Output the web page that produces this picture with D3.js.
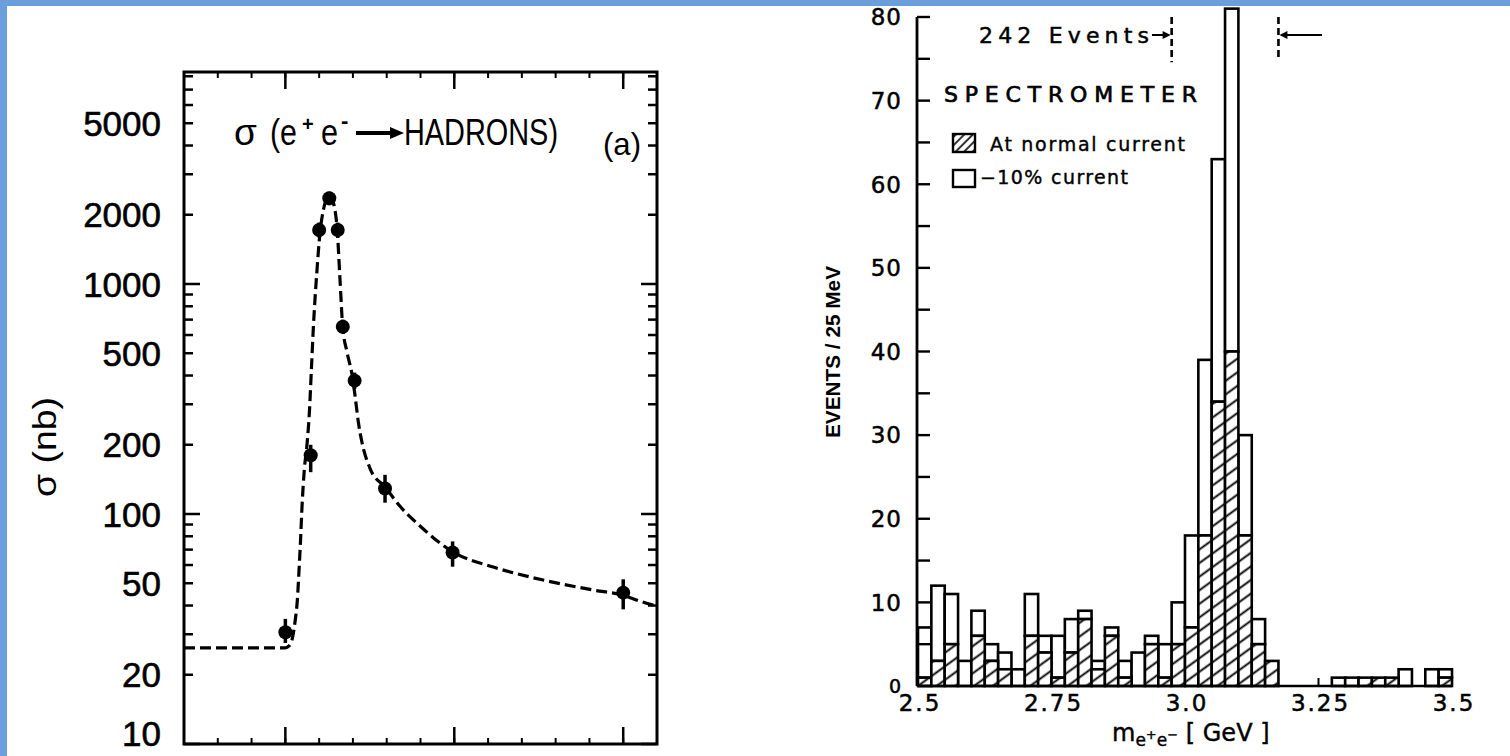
<!DOCTYPE html>
<html><head><meta charset="utf-8">
<script src="https://cdn.jsdelivr.net/npm/d3@7"></script>
<style>body{margin:0;background:#fff;}svg{display:block;}</style>
</head><body>
<svg id="c" width="1510" height="756"></svg>
<script>
// ===== Left panel: sigma(e+e- -> hadrons) =====
const leftEnergy  = [3.1000, 3.1015, 3.1020, 3.1026, 3.1031, 3.1034, 3.1041, 3.1059, 3.1099, 3.1200];
const leftSigma   = [30.6, 180, 1717, 2358, 1717, 652, 380, 129, 68, 45.5];
const leftSigmaLo = [27.5, 152, 1590, 2200, 1590, 610, 350, 112, 59, 38.5];
const leftSigmaHi = [35, 200, 1850, 2520, 1850, 700, 412, 148, 76, 52];
const fitEnergy = [3.0940,3.1000,3.10022,3.10039,3.10057,3.10071,3.10081,3.10090,3.10099,3.10112,
                   3.10128,3.10142,3.10154,3.10165,3.10186,3.10205,3.10225,3.10241,3.10258,3.10276,
                   3.10294,3.10307,3.10323,3.10339,3.10365,3.10395,3.10412,3.10432,3.10454,3.10501,
                   3.10594,3.10679,3.10797,3.10991,3.11231,3.11527,3.11823,3.11997,3.12099,3.12200];
const fitSigma  = [26.2,26.2,26.7,28.3,33.9,42.3,57.1,77.1,109,155,
                   200,275,423,631,1116,1666,2098,2319,2414,2319,
                   2098,1717,1062,657,506,402,329,251,204,158,
                   130,108,88.7,68.4,58.8,51.6,46.7,44.4,41.8,39.8];
const leftYTickLabels = [10, 20, 50, 100, 200, 500, 1000, 2000, 5000];
const leftXMajorTicks = [3.10, 3.11, 3.12];

// ===== Right panel: spectrometer histogram =====
const binStart = 2.5, binWidth = 0.025;
const totalCounts  = [7,12,11,3,9,5,4,2,11,6, 6,8,9,3,7,3,4,6,5,10, 18,39,63,81,30,8,3,0,0,0, 0,1,1,1,1,1,2,0,2,2];
const normalCounts = [1,3,5,0,6,3,2,0,6,4, 1,4,8,2,6,1,0,5,1,5, 7,18,34,40,18,5,3,0,0,0, 0,0,0,1,1,1,0,0,0,1];
const rightYTicks = [0,10,20,30,40,50,60,70,80];
const rightXTicks = [2.5, 2.75, 3.0, 3.25, 3.5];
const rightXTickLabels = ["2.5","2.75","3.0","3.25","3.5"];
const eventWindow = [2.975, 3.175];

const svg = d3.select("#c");
svg.append("rect").attr("width",1510).attr("height",756).attr("fill","#fff");

// ---------- LEFT ----------
const LF = "'Liberation Sans', Arial, sans-serif";
const xL = d3.scaleLinear().domain([3.094, 3.122]).range([184, 657]);
const yL = d3.scaleLog().domain([10, 8350]).range([744, 72]);
const gL = svg.append("g");
const [fx0, fx1] = xL.range(), [fy0, fy1] = yL.range();

const logTicks = yL.ticks();
gL.selectAll("line.ly").data(logTicks).join("line")
  .attr("x1", fx0).attr("x2", d => fx0 + (Math.log10(d) % 1 === 0 ? 16 : 9))
  .attr("y1", d => yL(d)).attr("y2", d => yL(d))
  .attr("stroke","#000").attr("stroke-width",2.5);
gL.selectAll("line.ry").data(logTicks).join("line")
  .attr("x1", fx1).attr("x2", d => fx1 - (Math.log10(d) % 1 === 0 ? 16 : 9))
  .attr("y1", d => yL(d)).attr("y2", d => yL(d))
  .attr("stroke","#000").attr("stroke-width",2.5);
const minorX = d3.range(3.096, 3.1215, 0.002);
[[fy0,-1],[fy1,1]].forEach(([yy,dir]) => {
  gL.append("g").selectAll("line").data(minorX).join("line")
    .attr("x1", d => xL(d)).attr("x2", d => xL(d))
    .attr("y1", yy).attr("y2", yy + dir*6).attr("stroke","#000").attr("stroke-width",2);
  gL.append("g").selectAll("line").data(leftXMajorTicks).join("line")
    .attr("x1", d => xL(d)).attr("x2", d => xL(d))
    .attr("y1", yy).attr("y2", yy + dir*17).attr("stroke","#000").attr("stroke-width",2.5);
});
gL.append("rect").attr("x",fx0).attr("y",fy1).attr("width",fx1-fx0).attr("height",fy0-fy1)
  .attr("fill","none").attr("stroke","#000").attr("stroke-width",3);

gL.selectAll("text.yl").data(leftYTickLabels).join("text")
  .attr("x",161).attr("y", d => Math.min(yL(d), 733)).attr("dy","0.36em")
  .attr("text-anchor","end").attr("font-family",LF).attr("font-size",35)
  .attr("stroke","#000").attr("stroke-width",0.6)
  .text(d => d);

const fit = fitEnergy.map((e,i) => ({e, s: fitSigma[i]}));
gL.append("path").datum(fit)
  .attr("d", d3.line().x(d => xL(d.e)).y(d => yL(d.s)).curve(d3.curveMonotoneX))
  .attr("fill","none").attr("stroke","#000").attr("stroke-width",3.2)
  .attr("stroke-dasharray","11,5");

const pts = leftEnergy.map((e,i) => ({e, s: leftSigma[i], lo: leftSigmaLo[i], hi: leftSigmaHi[i]}));
gL.selectAll("line.err").data(pts).join("line")
  .attr("x1", d => xL(d.e)).attr("x2", d => xL(d.e))
  .attr("y1", d => yL(d.lo)).attr("y2", d => yL(d.hi))
  .attr("stroke","#000").attr("stroke-width",3.5);
gL.selectAll("circle").data(pts).join("circle")
  .attr("cx", d => xL(d.e)).attr("cy", d => yL(d.s)).attr("r", 7).attr("fill","#000");

// title
gL.append("text").attr("x",234).attr("y",145).attr("font-family",LF).attr("font-size",37).text("σ");
gL.append("text").attr("x",270).attr("y",145).attr("font-family",LF).attr("font-size",37)
  .attr("textLength",27).attr("lengthAdjust","spacingAndGlyphs").text("(e");
gL.append("text").attr("x",302).attr("y",131).attr("font-family",LF).attr("font-size",20).attr("font-weight","bold").text("+");
gL.append("text").attr("x",321).attr("y",145).attr("font-family",LF).attr("font-size",37)
  .attr("textLength",17).attr("lengthAdjust","spacingAndGlyphs").text("e");
gL.append("text").attr("x",341).attr("y",128).attr("font-family",LF).attr("font-size",22).attr("font-weight","bold").text("-");
gL.append("line").attr("x1",356).attr("x2",392).attr("y1",133).attr("y2",133).attr("stroke","#000").attr("stroke-width",4);
gL.append("path").attr("d","M390,127 L404,133 L390,139 Z").attr("fill","#000");
gL.append("text").attr("x",404).attr("y",145).attr("font-family",LF).attr("font-size",37)
  .attr("textLength",154).attr("lengthAdjust","spacingAndGlyphs").text("HADRONS)");
gL.append("text").attr("x",603).attr("y",155).attr("font-family",LF).attr("font-size",32)
  .attr("textLength",38).attr("lengthAdjust","spacingAndGlyphs").text("(a)");
gL.append("text").attr("transform","translate(56,447) rotate(-90)")
  .attr("text-anchor","middle").attr("font-family",LF).attr("font-size",33)
  .attr("textLength",100).attr("lengthAdjust","spacingAndGlyphs").text("σ (nb)");

// ---------- RIGHT ----------
const RF = "'DejaVu Sans', sans-serif";
const xR = d3.scaleLinear().domain([2.5, 3.5]).range([918, 1452]);
const yR = d3.scaleLinear().domain([0, 80]).range([686, 17]);
const gR = svg.append("g");

const defs = svg.append("defs");
const pat = defs.append("pattern").attr("id","hatch").attr("patternUnits","userSpaceOnUse")
  .attr("width",10).attr("height",11).attr("patternTransform","rotate(-36)");
pat.append("rect").attr("width",10).attr("height",11).attr("fill","#fff");
pat.append("line").attr("x1",0).attr("x2",10).attr("y1",5.5).attr("y2",5.5)
  .attr("stroke","#000").attr("stroke-width",1.9);
const pat2 = defs.append("pattern").attr("id","hatch2").attr("patternUnits","userSpaceOnUse")
  .attr("width",6).attr("height",6).attr("patternTransform","rotate(-45)");
pat2.append("rect").attr("width",6).attr("height",6).attr("fill","#fff");
pat2.append("line").attr("x1",0).attr("x2",6).attr("y1",3).attr("y2",3)
  .attr("stroke","#000").attr("stroke-width",1.6);

gR.selectAll("line.xt").data(rightXTicks).join("line")
  .attr("x1", d => xR(d)).attr("x2", d => xR(d)).attr("y1", yR(0)).attr("y2", yR(0) - 8)
  .attr("stroke","#000").attr("stroke-width",2);

const bins = totalCounts.map((t,i) => ({lo: binStart + i*binWidth, total: t, normal: normalCounts[i]}));
gR.selectAll("rect.open").data(bins.filter(d => d.total > d.normal)).join("rect")
  .attr("x", d => xR(d.lo)).attr("width", d => xR(d.lo + binWidth) - xR(d.lo))
  .attr("y", d => yR(d.total)).attr("height", d => yR(d.normal) - yR(d.total))
  .attr("fill","#fff").attr("stroke","#000").attr("stroke-width",2.6);
gR.selectAll("rect.hat").data(bins.filter(d => d.normal > 0)).join("rect")
  .attr("x", d => xR(d.lo)).attr("width", d => xR(d.lo + binWidth) - xR(d.lo))
  .attr("y", d => yR(d.normal)).attr("height", d => yR(0) - yR(d.normal))
  .attr("fill","url(#hatch)").attr("stroke","#000").attr("stroke-width",2.6);

gR.append("line").attr("x1", xR(2.5)).attr("x2", xR(3.5)).attr("y1", yR(0)).attr("y2", yR(0))
  .attr("stroke","#000").attr("stroke-width",2.6);
gR.append("line").attr("x1", xR(2.5)-1).attr("x2", xR(2.5)-1).attr("y1", yR(0)).attr("y2", yR(80))
  .attr("stroke","#000").attr("stroke-width",2.8);
gR.selectAll("line.yt").data(d3.range(0, 81, 5)).join("line")
  .attr("x1", xR(2.5)-1).attr("x2", xR(2.5)+12).attr("y1", d => yR(d)).attr("y2", d => yR(d))
  .attr("stroke","#000").attr("stroke-width",2.4);
gR.selectAll("text.yl").data(rightYTicks).join("text")
  .attr("x", 902).attr("y", d => yR(d)).attr("dy","0.36em").attr("text-anchor","end")
  .attr("font-family",RF).attr("font-size", d => d === 0 ? 19 : 23).attr("letter-spacing",1)
  .attr("stroke","#000").attr("stroke-width",0.5)
  .text(d => d);
gR.selectAll("text.xl").data(rightXTicks).join("text")
  .attr("x", d => xR(d) + 2).attr("y", 711).attr("text-anchor","middle")
  .attr("font-family",RF).attr("font-size",23).attr("letter-spacing",2)
  .attr("stroke","#000").attr("stroke-width",0.5)
  .text((d,i) => rightXTickLabels[i]);

gR.append("text").attr("transform","translate(840,352) rotate(-90)")
  .attr("text-anchor","middle").attr("font-family","'Liberation Sans', sans-serif").attr("font-weight","bold")
  .attr("font-size",21).attr("textLength",172).attr("lengthAdjust","spacingAndGlyphs")
  .text("EVENTS / 25 MeV");
const xl = gR.append("text").attr("x",1112).attr("y",741).attr("font-family",RF).attr("font-size",24)
  .attr("stroke","#000").attr("stroke-width",0.4);
xl.append("tspan").text("m");
xl.append("tspan").attr("font-size",17).attr("dy",5).text("e");
xl.append("tspan").attr("font-size",13).attr("dy",-7).text("+");
xl.append("tspan").attr("font-size",17).attr("dy",7).text("e");
xl.append("tspan").attr("font-size",13).attr("dy",-7).text("−");
xl.append("tspan").attr("dy",2).attr("font-size",24).text(" [ GeV ]");

eventWindow.forEach(v => {
  gR.append("line").attr("x1", xR(v)).attr("x2", xR(v)).attr("y1", yR(80)).attr("y2", yR(v < 3 ? 74.6 : 75.2))
    .attr("stroke","#000").attr("stroke-width",2.6).attr("stroke-dasharray","7,4");
});
const ay = 35;
gR.append("text").attr("x",979).attr("y",43).attr("font-family",RF).attr("font-size",22)
  .attr("stroke","#000").attr("stroke-width",0.5)
  .attr("textLength",170).attr("lengthAdjust","spacing").text("242  Events");
gR.append("line").attr("x1",1152).attr("x2",1166).attr("y1",ay).attr("y2",ay).attr("stroke","#000").attr("stroke-width",2);
gR.append("path").attr("d",`M${xR(eventWindow[0])-1},${ay} l-8,-4 l0,8 Z`).attr("fill","#000");
gR.append("line").attr("x1",xR(eventWindow[1])+6).attr("x2",1322).attr("y1",ay).attr("y2",ay).attr("stroke","#000").attr("stroke-width",2);
gR.append("path").attr("d",`M${xR(eventWindow[1])+1},${ay} l8,-4 l0,8 Z`).attr("fill","#000");

gR.append("text").attr("x",944).attr("y",102).attr("font-family",RF).attr("font-size",22)
  .attr("stroke","#000").attr("stroke-width",0.7)
  .attr("textLength",253).attr("lengthAdjust","spacing").text("SPECTROMETER");
gR.append("rect").attr("x",953).attr("y",134).attr("width",22).attr("height",18)
  .attr("fill","url(#hatch2)").attr("stroke","#000").attr("stroke-width",2.4);
gR.append("text").attr("x",990).attr("y",151).attr("font-family",RF).attr("font-size",19)
  .attr("stroke","#000").attr("stroke-width",0.4)
  .attr("textLength",195).attr("lengthAdjust","spacing").text("At normal current");
gR.append("rect").attr("x",953).attr("y",170).attr("width",22).attr("height",17)
  .attr("fill","#fff").attr("stroke","#000").attr("stroke-width",2.4);
gR.append("text").attr("x",980).attr("y",184).attr("font-family",RF).attr("font-size",19)
  .attr("stroke","#000").attr("stroke-width",0.4)
  .attr("textLength",148).attr("lengthAdjust","spacing").text("−10% current");

svg.append("rect").attr("x",0).attr("y",0).attr("width",1510).attr("height",6).attr("fill","#6a9fdb");
svg.append("rect").attr("x",0).attr("y",0).attr("width",7).attr("height",756).attr("fill","#6a9fdb");
</script>
</body></html>
